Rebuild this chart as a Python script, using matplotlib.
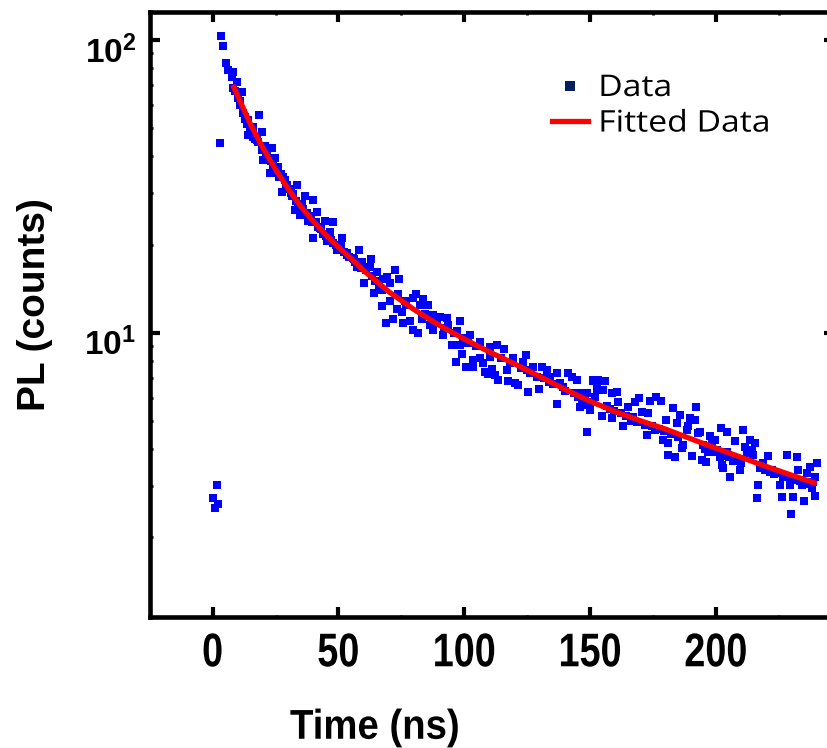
import numpy as np
import matplotlib
matplotlib.use('Agg')
import matplotlib.pyplot as plt
from matplotlib.lines import Line2D
from matplotlib import patheffects
from matplotlib.ticker import FuncFormatter, LogLocator, NullFormatter, MultipleLocator
from matplotlib.transforms import ScaledTranslation, Affine2D

plt.rcParams['mathtext.fontset'] = 'custom'
plt.rcParams['mathtext.rm'] = 'Liberation Sans:bold'
plt.rcParams['mathtext.bf'] = 'Liberation Sans:bold'
plt.rcParams['mathtext.it'] = 'Liberation Sans:bold'

# ---- data ----
time_ns = [
    0.2, 0.9, 1.6, 2.2, 2.9, 3.5, 4.2, 5.3, 6.2, 7.6, 8.2, 8.0, 9.5, 9.0, 10.0, 10.8,
    11.5, 12.2, 12.8, 13.5, 14.1, 14.1, 15.0, 16.1, 16.1, 17.0, 18.0, 18.5, 19.5, 19.5,
    20.1, 20.8, 21.5, 22.0, 22.8, 23.0, 23.4, 24.8, 24.8, 25.5, 26.1, 27.0, 27.4, 28.0,
    28.7, 29.5, 30.5, 31.4, 32.0, 32.7, 33.0, 33.4, 34.7, 35.5, 36.0, 36.7, 37.5, 38.0,
    39.0, 40.0, 40.0, 41.0, 41.3, 42.6, 43.0, 44.0, 44.6, 45.3, 46.0, 46.6, 47.9, 48.0,
    49.0, 49.3, 50.5, 51.3, 52.0, 53.2, 54.0, 55.9, 56.5, 57.2, 57.8, 58.3, 59.4, 60.2,
    61.0, 62.5, 63.0, 63.3, 64.0, 64.6, 65.5, 66.0, 67.1, 67.1, 67.8, 68.9, 69.1, 70.4,
    70.4, 71.8, 72.4, 73.1, 73.8, 74.1, 75.1, 75.5, 76.4, 78.4, 79.7, 79.7, 80.8, 81.7,
    82.4, 83.0, 83.7, 85.7, 86.3, 87.7, 87.7, 90.3, 91.6, 93.0, 93.6, 95.0, 96.7, 97.0,
    98.3, 98.3, 98.9, 99.6, 100.6, 101.6, 102.2, 103.6, 103.6, 106.2, 106.2, 107.5, 108.2,
    109.6, 110.2, 110.2, 110.9, 112.2, 112.8, 113.5, 115.7, 116.8, 117.5, 119.2, 120.1,
    121.4, 123.4, 124.5, 124.8, 125.4, 127.1, 128.7, 129.8, 130.7, 132.7, 134.0, 136.7,
    136.7, 138.0, 139.1, 141.3, 142.7, 144.6, 146.0, 146.0, 146.6, 148.0, 148.6, 148.6,
    149.9, 149.9, 151.2, 151.2, 151.9, 152.6, 152.6, 153.2, 154.6, 155.2, 155.9, 157.9,
    158.5, 158.5, 160.8, 161.2, 163.2, 165.1, 167.1, 167.8, 169.5, 170.5, 171.8, 172.5,
    173.1, 173.8, 175.7, 176.1, 178.1, 178.8, 180.1, 181.0, 181.0, 183.0, 183.7, 184.4,
    185.7, 186.4, 187.0, 188.3, 189.0, 189.6, 190.3, 191.6, 192.1, 193.0, 193.6, 194.3,
    194.9, 196.0, 196.9, 197.6, 198.3, 199.6, 200.5, 201.7, 202.1, 202.2, 202.9, 204.2,
    204.2, 205.5, 206.9, 207.5, 209.5, 210.8, 211.5, 212.2, 213.5, 214.2, 214.8, 215.5,
    216.2, 216.8, 218.8, 219.5, 220.8, 222.1, 224.1, 225.4, 226.1, 226.7, 228.1, 229.4,
    229.7, 230.7, 231.4, 232.1, 232.7, 234.0, 234.9, 236.0, 237.4, 238.0, 238.7, 239.3,
    239.3, 240.0,
    77.0, 84.5, 89.0, 92.0, 95.8, 104.8, 114.5, 118.3, 122.5, 126.2, 131.5, 133.5, 135.3,
    140.2, 143.5, 145.0, 156.8, 159.5, 162.2, 164.3, 166.2, 168.7, 174.5, 177.2, 179.5,
    182.2, 185.0, 195.5, 198.9, 203.5, 205.0, 208.3, 210.0, 217.5, 221.5, 223.2, 227.5,
    230.0, 233.3, 235.5, 237.0,
    11.0, 13.0, 15.5, 17.5, 21.0, 24.0, 26.5, 29.0, 31.0, 34.0, 37.0, 39.5, 42.0, 45.0,
    47.0, 51.0, 53.5, 56.0, 59.0,
]
pl_counts = [
    2.73, 2.51, 3.02, 2.60, 44.6, 103.0, 95.0, 83.7, 79.0, 74.9, 78.0, 68.4, 72.0, 67.0, 63.5, 60.0,
    66.6, 56.2, 53.5, 51.8, 53.3, 47.3, 49.8, 50.5, 46.7, 46.0, 44.8, 55.4, 48.6, 42.1,
    38.9, 43.4, 40.5, 39.6, 35.2, 38.6, 42.6, 39.4, 35.2, 36.2, 36.9, 34.9, 30.3, 33.9,
    33.2, 31.9, 31.0, 29.2, 29.8, 26.3, 28.2, 31.9, 25.3, 27.5, 26.5, 29.2, 25.7, 24.0,
    25.0, 28.4, 21.0, 23.8, 25.9, 22.7, 22.6, 21.8, 24.0, 20.6, 21.2, 22.1, 23.8, 20.3,
    20.0, 19.2, 19.3, 21.0, 18.9, 18.7, 18.2, 18.0, 17.5, 16.8, 17.1, 19.2, 17.4, 14.8,
    16.4, 16.7, 17.9, 15.6, 13.7, 15.0, 16.1, 14.6, 14.0, 12.3, 15.2, 10.8, 15.5, 14.8,
    12.8, 11.1, 16.4, 12.0, 13.6, 15.2, 11.8, 10.8, 12.8, 11.0, 13.1, 10.2, 13.6, 9.96,
    12.4, 11.1, 13.0, 12.4, 10.6, 11.5, 10.2, 11.3, 9.8, 11.2, 10.6, 9.08, 7.96, 10.1,
    11.0, 9.08, 8.46, 9.6, 7.62, 9.2, 9.8, 8.07, 7.66, 9.3, 8.17, 7.85, 7.36,
    7.2, 8.96, 8.28, 7.50, 7.17, 9.08, 6.89, 8.77, 7.46, 6.81, 8.17, 6.71,
    6.62, 7.96, 8.39, 7.46, 6.28, 7.66, 7.08, 6.42, 7.66, 7.46, 7.08, 7.26,
    5.70, 6.71, 6.54, 7.26, 7.08, 6.89, 6.21, 5.58, 5.66, 5.97, 6.24, 4.59,
    5.81, 5.44, 6.89, 6.81, 6.04, 6.37, 6.58, 6.89, 5.19, 6.37, 6.81, 5.47,
    6.24, 5.10, 6.28, 5.81, 4.78, 5.58, 5.16, 5.81, 5.97, 5.37, 4.84, 4.47,
    5.33, 5.86, 4.65, 6.04, 5.86, 4.30, 5.04, 4.19, 3.82, 5.52, 3.77, 4.90,
    5.24, 4.03, 4.13, 4.65, 4.78, 5.10, 3.79, 5.04, 5.58, 4.53, 4.59, 3.67,
    4.13, 3.62, 3.92, 4.44, 4.19, 4.30, 3.97, 3.77, 4.71, 3.53, 3.44, 4.59,
    3.92, 3.22, 3.65, 4.25, 3.40, 4.65, 4.08, 3.87, 4.30, 3.97, 3.82, 4.19,
    2.72, 3.02, 3.58, 3.40, 3.79, 3.40, 3.31, 3.02, 2.75, 3.22, 3.82, 3.02,
    2.40, 2.75, 3.14, 3.77, 3.40, 3.02, 2.67, 3.31, 3.48, 2.94, 3.10, 2.77,
    3.22, 3.58,
    12.4, 11.6, 10.9, 10.4, 10.0, 9.0, 8.2, 7.9, 7.6, 7.3, 7.0, 6.8, 6.7,
    6.3, 6.2, 6.05, 5.6, 5.4, 5.3, 5.2, 5.0, 4.95, 4.8, 4.7, 4.6,
    4.5, 4.4, 4.0, 3.9, 3.8, 3.75, 3.7, 3.6, 3.45, 3.35, 3.3, 3.25,
    3.2, 3.12, 3.08, 3.05,
    62.0, 54.5, 48.0, 45.5, 41.5, 37.5, 34.0, 31.5, 30.0, 27.3, 25.4, 23.9, 23.0, 21.4,
    20.8, 19.9, 18.4, 17.8, 16.6,
]
fit_time_ns = [8, 10, 15, 20, 25, 30, 35, 40, 45, 50, 55, 60, 70, 80, 90, 100, 110, 120,
               130, 140, 150, 160, 170, 180, 190, 200, 210, 220, 230, 240]
fit_pl_counts = [70.2, 64.3, 51.6, 42.7, 36.1, 31.0, 27.0, 24.0, 21.6, 19.6, 17.9, 16.3,
                 13.8, 12.0, 10.6, 9.51, 8.59, 7.82, 7.08, 6.40, 5.83, 5.37, 5.00, 4.68,
                 4.34, 4.03, 3.75, 3.49, 3.26, 3.05]
x_ticks = [0, 50, 100, 150, 200]
y_ticks = [10, 100]
legend_labels = ['Data', 'Fitted Data']


class Stretch(patheffects.AbstractPathEffect):
    """Scale glyph outlines horizontally (condensed / widened lettering)."""
    def __init__(self, sx, anchor='center'):
        super().__init__()
        self.sx = sx
        self.anchor = anchor

    def draw_path(self, renderer, gc, tpath, affine, rgbFace=None):
        ext = tpath.get_extents(affine)
        cx = ext.x0 if self.anchor == 'left' else 0.5 * (ext.x0 + ext.x1)
        new = affine + Affine2D().translate(-cx, 0).scale(self.sx, 1).translate(cx, 0)
        renderer.draw_path(gc, tpath, new, rgbFace)


# ---- figure ----
fig = plt.figure(figsize=(8.28, 7.48), dpi=100)
ax = fig.add_axes([150 / 828, 131 / 748, 684 / 828, 605 / 748])
ax.set_yscale('log')

ax.plot(time_ns, pl_counts, linestyle='none', marker='s', ms=5.5, mew=0,
        color='#0000ff', zorder=2)
ax.plot(fit_time_ns, fit_pl_counts, '-', lw=3.8, color='#ff0000', zorder=3,
        solid_capstyle='butt')

ax.set_xlim(-24.9, 246.9)
ax.set_ylim(1.068, 124.6)

for s in ax.spines.values():
    s.set_linewidth(3.3)

ax.set_xticks(x_ticks)
ax.set_xticklabels([str(v) for v in x_ticks], fontfamily='Liberation Sans',
                   fontweight='bold', fontsize=34)
for lab in ax.get_xticklabels():
    lab.set_path_effects([Stretch(0.8)])
ax.xaxis.set_minor_locator(MultipleLocator(25))

ax.set_yticks(y_ticks)
ax.yaxis.set_major_formatter(FuncFormatter(lambda v, p: r'$\mathbf{10^{%d}}$' % round(np.log10(v))))
ax.yaxis.set_minor_locator(LogLocator(base=10, subs=range(2, 10)))
ax.yaxis.set_minor_formatter(NullFormatter())

ax.tick_params(which='major', direction='in', length=7.5, width=3, top=True, right=True)
ax.tick_params(which='minor', direction='in', length=1.8, width=2, top=True, right=True)
ax.tick_params(axis='x', which='major', pad=11)
ax.tick_params(axis='y', which='major', pad=10, labelsize=24)

for lab in ax.get_yticklabels():
    lab.set_transform(lab.get_transform() + ScaledTranslation(0, -0.09, fig.dpi_scale_trans))

xl = ax.set_xlabel('Time (ns)', fontfamily='Liberation Sans', fontweight='bold', fontsize=30)
xl.set_path_effects([Stretch(0.92)])
ax.xaxis.set_label_coords(0.329, -0.150)
ax.set_ylabel('PL (counts)', fontfamily='Liberation Sans', fontweight='bold', fontsize=28)
ax.yaxis.set_label_coords(-0.1418, 0.5157)

handles = [Line2D([], [], ls='none', marker='s', ms=6.5, mew=0, color='#002060'),
           Line2D([], [], color='#ff0000', lw=3.8)]
leg = ax.legend(handles, legend_labels, loc='upper left',
                bbox_to_anchor=(552 / 828, 1 - 74 / 748),
                bbox_transform=fig.transFigure, frameon=False,
                prop={'family': 'Open Sans', 'size': 21.5}, handlelength=1.2,
                handletextpad=0.36, labelspacing=0.22, borderpad=0, borderaxespad=0)
for t in leg.get_texts():
    t.set_path_effects([Stretch(1.13, anchor='left')])

fig.savefig('out.png', dpi=100)
